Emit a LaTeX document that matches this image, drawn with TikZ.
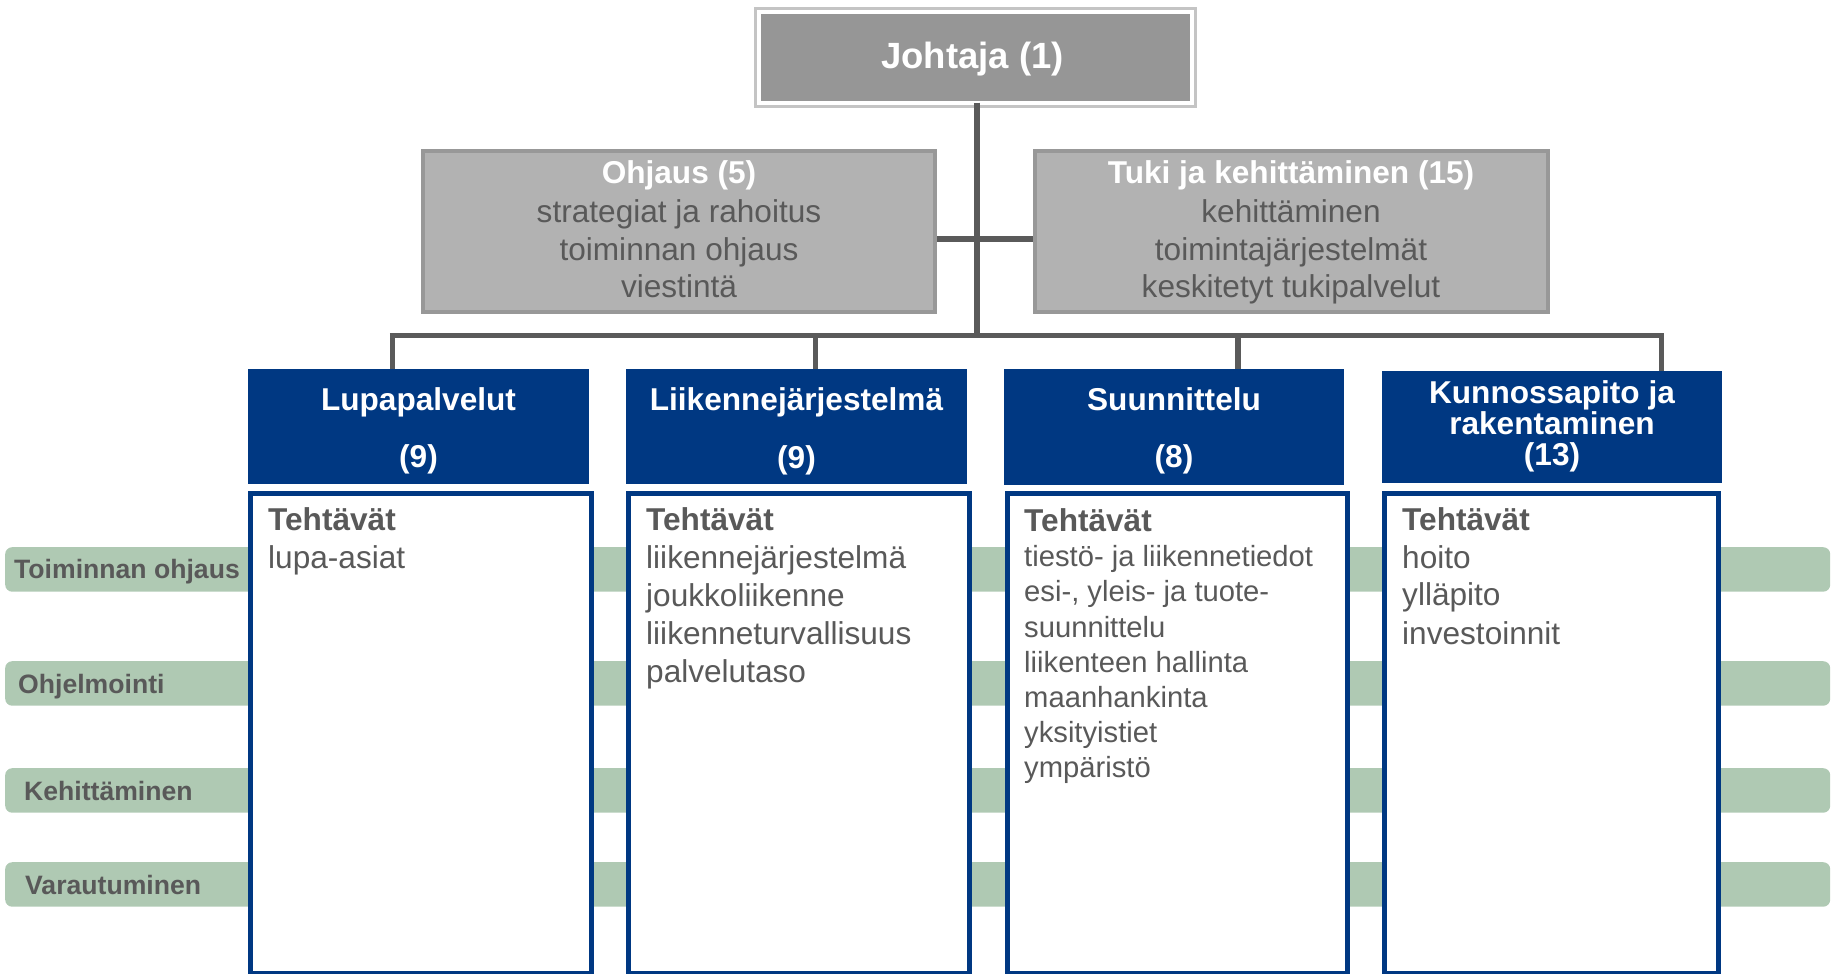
\documentclass[tikz,border=0pt]{standalone}
\usepackage{fontspec}
\setmainfont{Liberation Sans}
\definecolor{navy}{HTML}{003882}
\definecolor{boxgray}{HTML}{B2B2B2}
\definecolor{boxedge}{HTML}{989898}
\definecolor{jfill}{HTML}{969696}
\definecolor{jframe}{HTML}{C4C4C4}
\definecolor{sage}{HTML}{AFC9B3}
\definecolor{textgray}{HTML}{595959}
\definecolor{linegray}{HTML}{5A5A5A}
\tikzset{
  conn/.style={draw=linegray, line width=5.5},
  graybox/.style={fill=boxgray, draw=boxedge, line width=4, inner sep=0, anchor=north west},
  headbox/.style={fill=navy, draw=none, inner sep=0, anchor=north west},
  bodybox/.style={fill=white, draw=navy, line width=5, inner sep=0, anchor=north west},
  band/.style={fill=sage, draw=none, rounded corners=7, inner sep=0, anchor=north west, minimum width=1825, minimum height=44.5},
  bandlabel/.style={inner sep=0, anchor=base west, text=textgray, font=\bfseries\fontsize{26.6}{31}\selectfont},
  jtitle/.style={inner sep=0, anchor=base, text=white, font=\bfseries\fontsize{36.5}{44}\selectfont},
  gtitle/.style={inner sep=0, anchor=base, text=white, font=\bfseries\fontsize{31.6}{38}\selectfont},
  gline/.style={inner sep=0, anchor=base, text=textgray, font=\fontsize{31.6}{38}\selectfont},
  htitle/.style={inner sep=0, anchor=base, text=white, font=\bfseries\fontsize{31.6}{38}\selectfont},
  bhead/.style={inner sep=0, anchor=base west, text=textgray, font=\bfseries\fontsize{31.6}{38}\selectfont},
  bline/.style={inner sep=0, anchor=base west, text=textgray, font=\fontsize{31.6}{38}\selectfont},
  bsmall/.style={inner sep=0, anchor=base west, text=textgray, font=\fontsize{29.2}{35}\selectfont},
}
\begin{document}
\begin{tikzpicture}[x=1pt,y=-1pt]
\useasboundingbox (0,0) rectangle (1831,974);

% green bands
\node[band] (b1) at (5,547) {};
\node[band] (b2) at (5,661) {};
\node[band] (b3) at (5,768) {};
\node[band] (b4) at (5,862) {};
\node[bandlabel] (l1) at (14,578.5) {Toiminnan ohjaus};
\node[bandlabel] (l2) at (18,693.3) {Ohjelmointi};
\node[bandlabel] (l3) at (24,800.3) {Kehittäminen};
\node[bandlabel] (l4) at (25,894) {Varautuminen};

% top box
\node[fill=jfill, draw=white, line width=2, inner sep=0, anchor=north west,
      minimum width=431, minimum height=88.5] (j) at (759,12) {};
\draw[draw=jframe, line width=3] ([shift={(-3.5,-3.5)}]j.north west) rectangle ([shift={(3.5,3.5)}]j.south east);
\node[jtitle] (jt) at (972.5,68.5) {Johtaja (1)};

% gray boxes
\node[graybox, minimum width=512, minimum height=161] (o) at (421,149) {};
\node[graybox, minimum width=513, minimum height=161] (t) at (1033,149) {};
\node[gtitle] (ot) at (679,183) {Ohjaus (5)};
\node[gline] (o1) at (679,222) {strategiat ja rahoitus};
\node[gline] (o2) at (679,260) {toiminnan ohjaus};
\node[gline] (o3) at (679,297) {viestintä};
\node[gtitle] (tt) at (1291,183) {Tuki ja kehittäminen (15)};
\node[gline] (t1) at (1291,222) {kehittäminen};
\node[gline] (t2) at (1291,260) {toimintajärjestelmät};
\node[gline] (t3) at (1291,297) {keskitetyt tukipalvelut};

% blue headers
\node[headbox, minimum width=341, minimum height=115] (h1) at (248,369) {};
\node[headbox, minimum width=341, minimum height=115] (h2) at (626,369) {};
\node[headbox, minimum width=340, minimum height=116] (h3) at (1004,369) {};
\node[headbox, minimum width=340, minimum height=112] (h4) at (1382,371) {};
\node[htitle] (h1a) at (418.5,410) {Lupapalvelut};
\node[htitle] (h1b) at (418.5,467.5) {(9)};
\node[htitle] (h2a) at (796.5,410) {Liikennejärjestelmä};
\node[htitle] (h2b) at (796.5,468) {(9)};
\node[htitle] (h3a) at (1174,410) {Suunnittelu};
\node[htitle] (h3b) at (1174,467.5) {(8)};
\node[htitle] (h4a) at (1552,403) {Kunnossapito ja};
\node[htitle] (h4b) at (1552,434) {rakentaminen};
\node[htitle] (h4c) at (1552,465) {(13)};

% body boxes
\node[bodybox, minimum width=341, minimum height=480] (p1) at (247.5,490.5) {};
\node[bodybox, minimum width=341, minimum height=480] (p2) at (625.5,490.5) {};
\node[bodybox, minimum width=340, minimum height=480] (p3) at (1004.5,490.5) {};
\node[bodybox, minimum width=334, minimum height=480] (p4) at (1381.5,490.5) {};

\node[bhead] (p1h) at (268,530) {Tehtävät};
\node[bline] (p1a) at (268,568) {lupa-asiat};

\node[bhead] (p2h) at (646,530) {Tehtävät};
\node[bline] (p2a) at (646,568) {liikennejärjestelmä};
\node[bline] (p2b) at (646,606) {joukkoliikenne};
\node[bline] (p2c) at (646,644) {liikenneturvallisuus};
\node[bline] (p2d) at (646,682) {palvelutaso};

\node[bhead] (p3h) at (1024,531) {Tehtävät};
\node[bsmall] (p3a) at (1024,566) {tiestö- ja liikennetiedot};
\node[bsmall] (p3b) at (1024,601.5) {esi-, yleis- ja tuote-};
\node[bsmall] (p3c) at (1024,637) {suunnittelu};
\node[bsmall] (p3d) at (1024,672) {liikenteen hallinta};
\node[bsmall] (p3e) at (1024,707) {maanhankinta};
\node[bsmall] (p3f) at (1024,742) {yksityistiet};
\node[bsmall] (p3g) at (1024,777) {ympäristö};

\node[bhead] (p4h) at (1402,530) {Tehtävät};
\node[bline] (p4a) at (1402,568) {hoito};
\node[bline] (p4b) at (1402,605) {ylläpito};
\node[bline] (p4c) at (1402,644) {investoinnit};

% connectors
\coordinate (cross) at (977,239);
\coordinate (busL) at (392.5,335.5);
\coordinate (bus2) at (815.5,335.5);
\coordinate (bus3) at (1238,335.5);
\coordinate (busR) at (1661.5,335.5);
\coordinate (jdrop) at (977,335.5);
\draw[conn] (o.east |- cross) -- (t.west |- cross);
\draw[conn] (jdrop |- j.south) -- (jdrop);
\draw[conn] ([xshift=-2.75]busL) -- ([xshift=2.75]busR);
\draw[conn] ([yshift=-2.75]busL) -- (busL |- h1.north);
\draw[conn] (bus2) -- (bus2 |- h2.north);
\draw[conn] (bus3) -- (bus3 |- h3.north);
\draw[conn] ([yshift=-2.75]busR) -- (busR |- h4.north);
\end{tikzpicture}
\end{document}
